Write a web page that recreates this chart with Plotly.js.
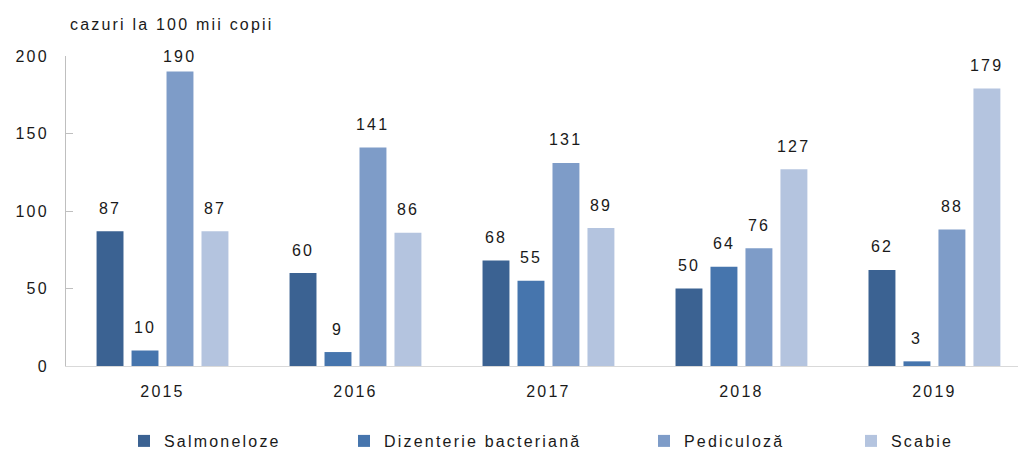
<!DOCTYPE html>
<html>
<head>
<meta charset="utf-8">
<script src="https://cdn.plot.ly/plotly-3.0.1.min.js"></script>
<style>
  html, body { margin: 0; padding: 0; background: #ffffff; }
  #chart { width: 1018px; height: 452px; }
  svg text { letter-spacing: 2.2px; }
</style>
</head>
<body>
<div id="chart"></div>
<script>
// ---- data ----
const years = ["2015", "2016", "2017", "2018", "2019"];
const seriesNames = ["Salmoneloze", "Dizenterie bacteriană", "Pediculoză", "Scabie"];
const salmoneloze = [87, 60, 68, 50, 62];
const dizenterie = [10, 9, 55, 64, 3];
const pediculoza = [190, 141, 131, 76, 88];
const scabie = [87, 86, 89, 127, 179];
const yTicks = [0, 50, 100, 150, 200];
const unitLabel = "cazuri la 100 mii copii";

// ---- style ----
const colors = ["#3b6292", "#4675ad", "#7e9cc8", "#b4c4df"];
const seriesValues = [salmoneloze, dizenterie, pediculoza, scabie];
const legendIds = ["legend", "legend2", "legend3", "legend4"];
const legendPx = [124, 344, 644, 851];
const font = "Liberation Sans, Arial, sans-serif";
const textColor = "#1a1a1a";

const W = 1018, H = 452;
const plotH = 310, yMax = 200;
const pxPerUnit = plotH / yMax;
const bargap = 0.275;
const slot = (1 - bargap) / seriesValues.length;

const traces = seriesValues.map((vals, j) => ({
  type: "bar",
  name: seriesNames[j],
  x: years,
  y: vals,
  marker: { color: colors[j], line: { width: 0 } },
  legend: legendIds[j],
  hoverinfo: "x+y+name"
}));

const annotations = [];
seriesValues.forEach((vals, j) => {
  const off = (j - (seriesValues.length - 1) / 2) * slot;
  vals.forEach((v, i) => {
    annotations.push({
      xref: "x", yref: "y",
      x: i + off,
      y: Math.min(v + 23 / pxPerUnit, yMax),
      yanchor: "middle", xanchor: "center",
      text: String(v),
      showarrow: false,
      font: { family: font, size: 16, color: textColor }
    });
  });
});
annotations.push({
  xref: "paper", yref: "paper",
  x: 0.002, y: 1 + 31 / plotH,
  xanchor: "left", yanchor: "middle",
  text: unitLabel, showarrow: false,
  font: { family: font, size: 16, color: textColor }
});

const layout = {
  width: W, height: H,
  margin: { l: 66, r: 0, t: 56, b: 86 },
  paper_bgcolor: "#ffffff", plot_bgcolor: "#ffffff",
  font: { family: font, size: 16, color: textColor },
  barmode: "group",
  bargap: bargap,
  bargroupgap: 0.23,
  showlegend: true,
  xaxis: {
    type: "category",
    range: [-0.5, 4.433],
    showgrid: false, zeroline: false,
    showline: true, linecolor: "#d9d9d9", linewidth: 1,
    ticks: "",
    ticklabelstandoff: 11,
    tickfont: { family: font, size: 16, color: textColor },
    automargin: false,
    fixedrange: true
  },
  yaxis: {
    range: [0, yMax],
    tickvals: yTicks,
    ticktext: yTicks.map(String),
    showgrid: false, zeroline: false,
    showline: true, linecolor: "#bfbfbf", linewidth: 1,
    ticks: "inside", ticklen: 7, tickcolor: "#bfbfbf", tickwidth: 1,
    ticklabelstandoff: 13,
    tickfont: { family: font, size: 16, color: textColor },
    automargin: false,
    fixedrange: true
  },
  annotations: annotations
};
legendIds.forEach((id, j) => {
  layout[id] = {
    orientation: "h",
    xref: "container", yref: "container",
    x: legendPx[j] / W, xanchor: "left",
    y: (H - 441) / H, yanchor: "middle",
    bgcolor: "rgba(0,0,0,0)",
    borderwidth: 0,
    font: { family: font, size: 16, color: textColor },
    itemclick: false, itemdoubleclick: false
  };
});

Plotly.newPlot("chart", traces, layout, { displayModeBar: false, staticPlot: true });
</script>
</body>
</html>
